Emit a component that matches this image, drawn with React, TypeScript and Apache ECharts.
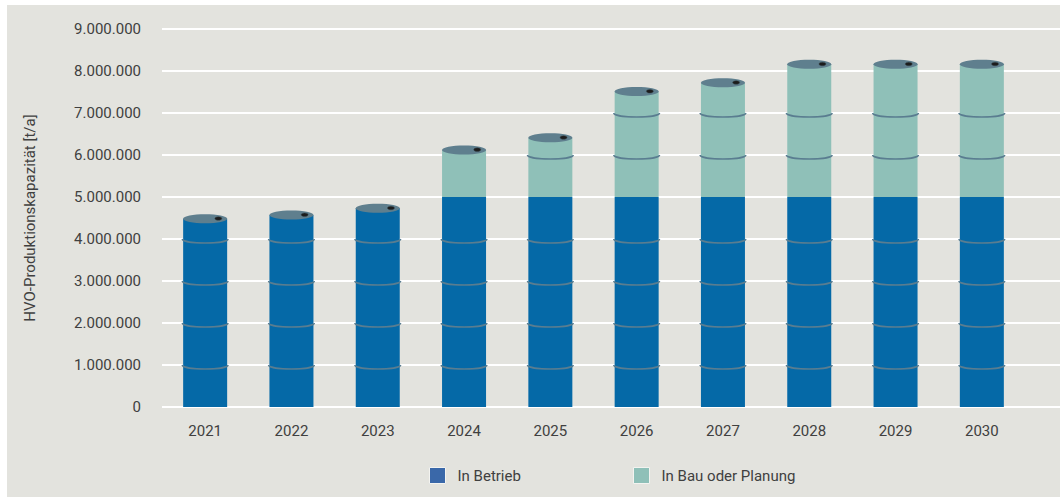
import React, { useEffect, useRef } from "react";
import * as echarts from "echarts";

const years = ["2021", "2022", "2023", "2024", "2025", "2026", "2027", "2028", "2029", "2030"];
const inBetrieb = [4480000, 4570000, 4730000, 5000000, 5000000, 5000000, 5000000, 5000000, 5000000, 5000000];
const inBau = [0, 0, 0, 1120000, 1410000, 2510000, 2720000, 3160000, 3160000, 3160000];
const yMax = 9000000;
const yInterval = 1000000;

const FONT = "Roboto, 'Noto Sans', sans-serif";
const TEXT = "#404040";
const BLUE = "#0569a7";
const GREEN = "#8fc0b8";
const BAR_W = 44;

function fmt(v: number): string {
  return String(Math.round(v)).replace(/\B(?=(\d{3})+(?!\d))/g, ".");
}

export default function App() {
  const ref = useRef<HTMLDivElement>(null);
  useEffect(() => {
    if (!ref.current) return;
    const chart = echarts.init(ref.current, undefined, { renderer: "svg" });
    const barrelData = years.map((_, i) => [i, inBetrieb[i] + inBau[i], inBetrieb[i], inBau[i]]);
    const option: any = {
      animation: false,
      backgroundColor: "#e3e3de",
      grid: [
        { left: 155, right: 0, top: 24, bottom: 90 },
        { left: 155, right: 35, top: 24, bottom: 90 },
      ],
      legend: [
        {
          left: 422,
          top: 462,
          padding: 0,
          itemWidth: 16,
          itemHeight: 16,
          selectedMode: false,
          textStyle: { color: TEXT, fontSize: 15, fontFamily: FONT, padding: [0, 0, 0, 7] },
          data: [
            { name: "In Betrieb", icon: "rect", itemStyle: { color: "#3a68a9", borderColor: "#f3f3f0", borderWidth: 1 } },
          ],
        },
        {
          left: 626,
          top: 462,
          padding: 0,
          itemWidth: 16,
          itemHeight: 16,
          selectedMode: false,
          textStyle: { color: TEXT, fontSize: 15, fontFamily: FONT, padding: [0, 0, 0, 7] },
          data: [
            { name: "In Bau oder Planung", icon: "rect", itemStyle: { color: GREEN, borderColor: "#f3f3f0", borderWidth: 1 } },
          ],
        },
      ],
      xAxis: [
        { gridIndex: 0, type: "category", data: years, show: false },
        {
          gridIndex: 1,
          type: "category",
          data: years,
          axisLine: { show: false },
          axisTick: { show: false },
          axisLabel: { margin: 16, color: TEXT, fontSize: 15, fontFamily: FONT },
        },
      ],
      yAxis: [
        {
          gridIndex: 0,
          type: "value",
          min: 0,
          max: yMax,
          interval: yInterval,
          axisLine: { show: false },
          axisTick: { show: false },
          splitLine: { show: true, lineStyle: { color: "#ffffff", width: 2 } },
          axisLabel: { margin: 21, color: TEXT, fontSize: 15, fontFamily: FONT, formatter: (v: number) => fmt(v) },
          name: "HVO-Produktionskapazität [t/a]",
          nameLocation: "middle",
          nameGap: 125,
          nameTextStyle: { color: TEXT, fontSize: 15, fontFamily: FONT },
        },
        { gridIndex: 1, type: "value", min: 0, max: yMax, interval: yInterval, show: false, splitLine: { show: false } },
      ],
      series: [
        {
          name: "In Betrieb",
          type: "bar",
          xAxisIndex: 1,
          yAxisIndex: 1,
          stack: "total",
          barWidth: BAR_W,
          itemStyle: { color: BLUE },
          data: inBetrieb,
        },
        {
          name: "In Bau oder Planung",
          type: "bar",
          xAxisIndex: 1,
          yAxisIndex: 1,
          stack: "total",
          barWidth: BAR_W,
          itemStyle: { color: GREEN },
          data: inBau,
        },
        {
          type: "custom",
          xAxisIndex: 1,
          yAxisIndex: 1,
          z: 5,
          silent: true,
          data: barrelData,
          renderItem: (params: any, api: any) => {
            const i = api.value(0);
            const total = api.value(1);
            const blue = api.value(2);
            const green = api.value(3);
            const top = api.coord([i, total]);
            const cx = top[0];
            const yTop = top[1];
            const w = BAR_W;
            const children: any[] = [];
            for (let m = yInterval; m < total; m += yInterval) {
              if (green > 0 && m === blue) continue;
              if (total - m < 250000) continue;
              const y = api.coord([i, m])[1];
              const x0 = cx - w / 2 - 1;
              const x1 = cx + w / 2 + 1;
              children.push({
                type: "bezierCurve",
                shape: { x1: x0, y1: y, x2: x1, y2: y, cpx1: x0 + 1, cpy1: y + 5.3, cpx2: x1 - 1, cpy2: y + 5.3 },
                style: { stroke: "#5a7d90", lineWidth: 1.5, fill: null },
              });
            }
            children.push({
              type: "ellipse",
              shape: { cx, cy: yTop, rx: w / 2, ry: 4.5 },
              style: { fill: "#5f7f8e" },
            });
            children.push({
              type: "ellipse",
              shape: { cx: cx + 0.3 * w, cy: yTop - 0.3, rx: 3.5, ry: 1.8 },
              style: { fill: "#1c1c1c", stroke: "#3a4a50", lineWidth: 0.5 },
            });
            return { type: "group", children };
          },
        },
      ],
    };
    chart.setOption(option);
    return () => chart.dispose();
  }, []);
  return (
    <div style={{ position: "fixed", left: 0, top: 0, width: 1060, height: 497, background: "#ffffff" }}>
      <div ref={ref} style={{ position: "absolute", left: 7, top: 5, width: 1053, height: 492 }} />
    </div>
  );
}
